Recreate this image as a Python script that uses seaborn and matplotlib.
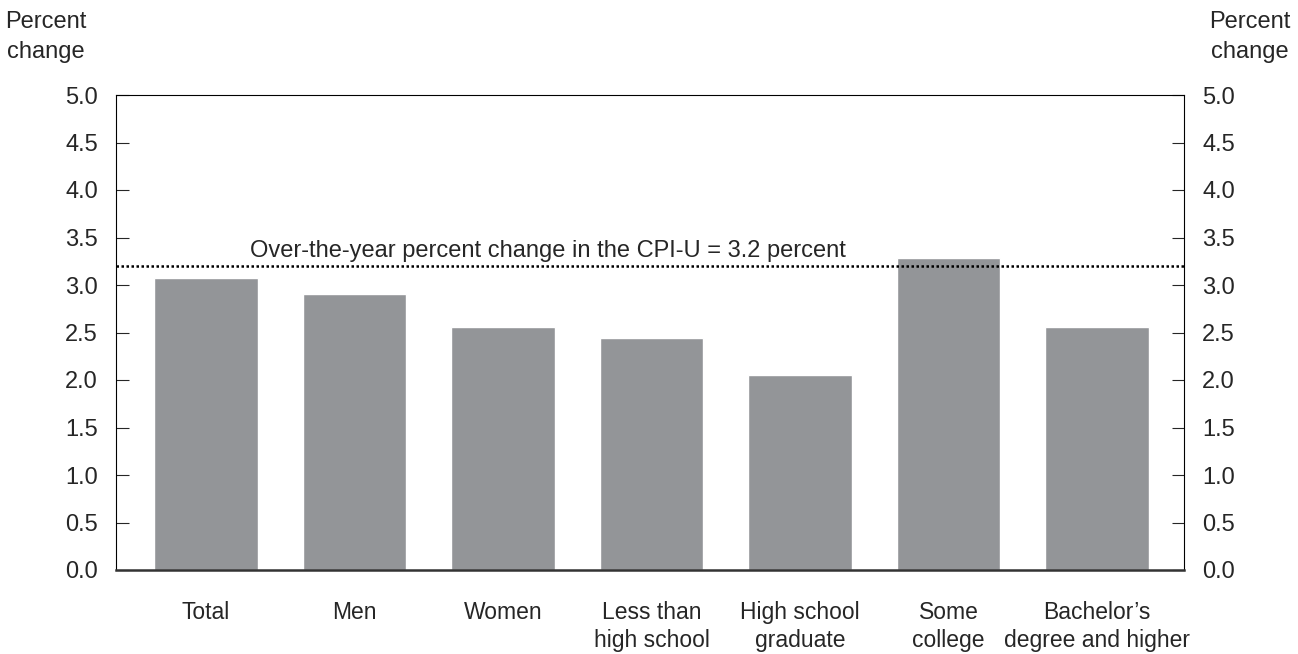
import pandas as pd
import matplotlib.pyplot as plt
import seaborn as sns

# values
groups = ["Total", "Men", "Women", "Less than\nhigh school", "High school\ngraduate",
          "Some\ncollege", "Bachelor\u2019s\ndegree and higher"]
pct_change = [3.07, 2.91, 2.56, 2.44, 2.05, 3.28, 2.56]
cpi_u = 3.2
yticks = [0.0, 0.5, 1.0, 1.5, 2.0, 2.5, 3.0, 3.5, 4.0, 4.5, 5.0]

df = pd.DataFrame({"group": groups, "pct": pct_change})

sns.set_style("white")
plt.rcParams["font.family"] = ["Liberation Sans", "DejaVu Sans"]
FS = 17

fig = plt.figure(figsize=(12.98, 6.54), dpi=100)
ax = fig.add_axes([116 / 1298, 1 - 570 / 654, (1184 - 116) / 1298, (570 - 95) / 654])

sns.barplot(data=df, x="group", y="pct", color="#939598", saturation=1, width=0.70, ax=ax)

ax.axhline(cpi_u, color="black", linestyle=(0, (1, 1.0)), linewidth=1.8)
ax.text(2.30, cpi_u + 0.04, "Over-the-year percent change in the CPI-U = 3.2 percent",
        ha="center", va="bottom", fontsize=FS)

ax.set_xlim(-0.606, 6.586)
ax.set_ylim(0, 5)
ax.set_yticks(yticks)
ax.set_yticklabels([f"{v:.1f}" for v in yticks])
ax.set_xlabel("")
ax.set_ylabel("")

ax.tick_params(axis="y", direction="in", length=9, width=0.8, pad=13,
               left=True, right=True, labelleft=True, labelright=True, labelsize=FS)
ax.tick_params(axis="x", direction="in", length=9, width=0.8, pad=22, bottom=True,
               labelsize=16.5)
for lbl in ax.get_xticklabels():
    lbl.set_linespacing(1.3)

for side in ["left", "right", "top"]:
    ax.spines[side].set_linewidth(0.8)
    ax.spines[side].set_color("black")
ax.spines["bottom"].set_linewidth(1.8)
ax.spines["bottom"].set_color("#333333")

fig.text(46 / 1298, 1 - 37 / 654, "Percent\nchange", ha="center", va="center",
         fontsize=FS, linespacing=1.45)
fig.text(1250 / 1298, 1 - 37 / 654, "Percent\nchange", ha="center", va="center",
         fontsize=FS, linespacing=1.45)

fig.savefig("out.png", dpi=100)
